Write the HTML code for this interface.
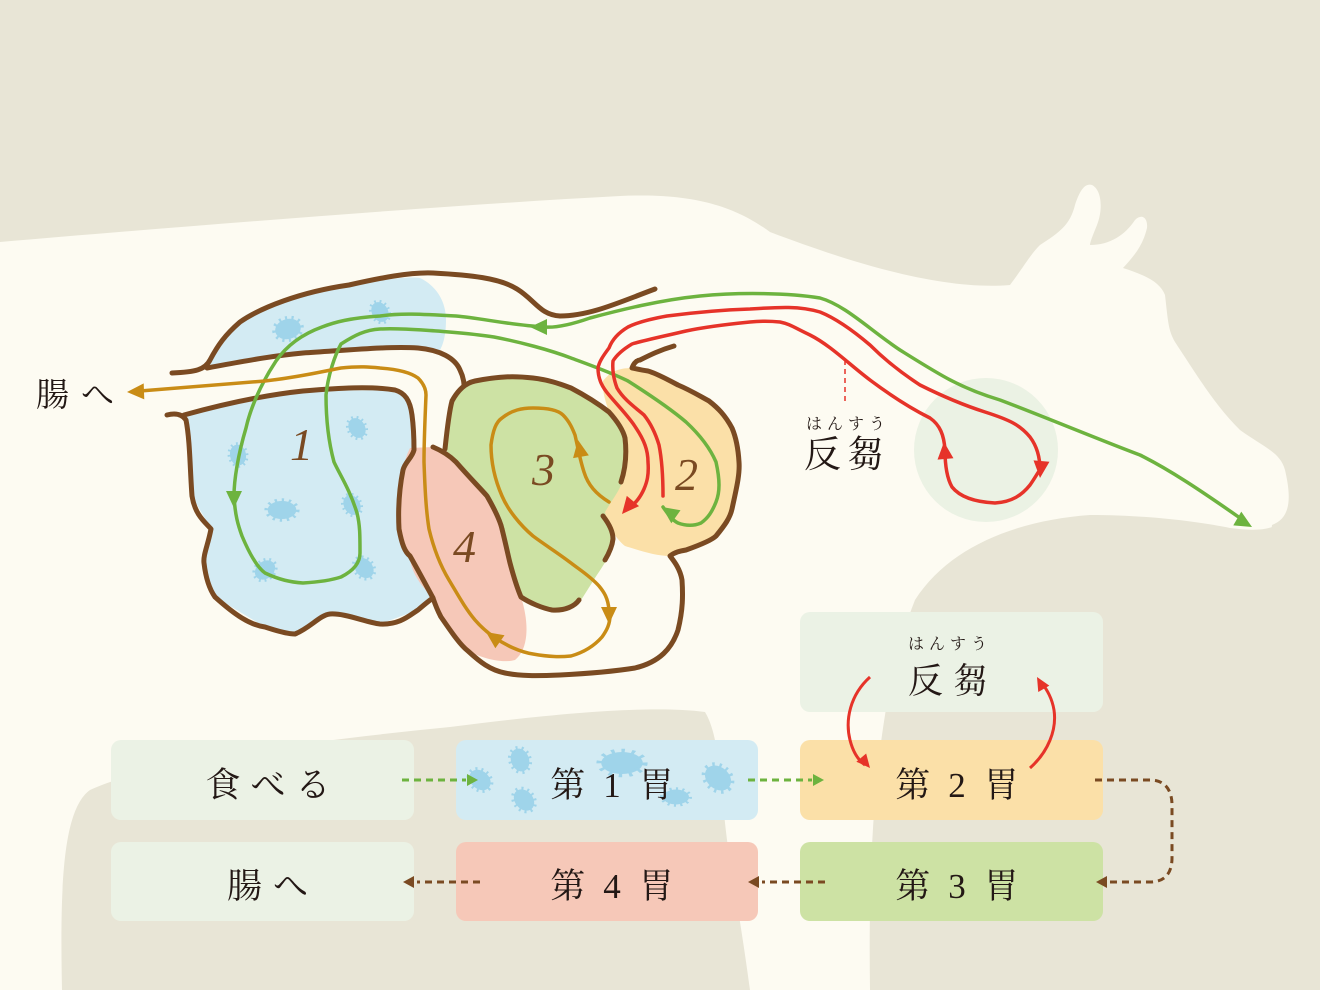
<!DOCTYPE html>
<html><head><meta charset="utf-8"><style>
html,body{margin:0;padding:0;background:#e8e5d6}
svg{display:block}
.j{font-family:"Liberation Serif","Noto Serif CJK SC","Noto Serif CJK JP",serif;fill:#231815}
.n{font-family:"Liberation Serif",serif;font-style:italic;fill:#7a4a22;font-size:46px}
</style></head><body>
<svg width="1320" height="990" viewBox="0 0 1320 990" xmlns="http://www.w3.org/2000/svg">
<defs>
<path id="ah" d="M0,0 L-17,-8 L-17,8 Z"/>
<path id="sh" d="M0,0 L-11,-6 L-11,6 Z"/>
<g id="mic"><ellipse cx="0" cy="0" rx="13" ry="10" fill="#9fd4ea" stroke="#9fd4ea" stroke-width="6" stroke-dasharray="2 4"/></g>
</defs>
<rect width="1320" height="990" fill="#e8e5d6"/>
<path fill="#fdfbf2" d="M0,242 C200,225 450,205 620,196 C700,192 740,210 770,232 C870,270 950,290 1010,285 C1025,265 1030,255 1040,245 C1060,232 1070,225 1075,205 C1080,190 1085,183 1092,185 C1102,190 1103,210 1097,225 C1093,235 1090,242 1090,245 C1110,245 1125,235 1135,220 C1142,213 1148,218 1147,228 C1143,245 1135,255 1123,268 C1145,275 1160,282 1165,295 C1168,320 1168,330 1175,342 C1200,380 1215,405 1240,430 C1265,448 1280,452 1285,470 C1292,500 1290,518 1272,525 L1250,700 L870,990 L0,990 Z"/>
<path fill="#e8e5d6" d="M870,990 C868,850 875,700 915,600 C950,545 1020,520 1090,515 C1150,515 1200,522 1230,528 C1255,531 1265,530 1275,526 L1320,526 L1320,990 Z"/>
<path fill="#e8e5d6" d="M62,990 C60,890 62,810 90,790 C150,762 300,742 450,727 C560,713 650,705 705,712 C722,740 720,800 730,860 C740,920 746,960 750,990 Z"/>
<circle cx="986" cy="450" r="72" fill="#e7f0e2" opacity="0.85"/>

<path fill="#d3ebf3" d="M207,368 L227,332 C240,315 255,310 265,307 C300,295 320,290 349,285 C380,280 410,276 420,278 C435,285 446,300 446,320 C446,335 443,345 440,350 L418,348 L303,353 Z"/>
<path fill="#d3ebf3" d="M184,415 L303,391 L395,390 C405,395 410,400 414,442 L410,460 L400,480 C398,530 405,560 433,598 L418,610 L380,624 L330,614 L295,634 L265,627 L215,597 L204,563 L211,529 L192,496 L188,428 Z"/>
<path fill="#f6c8b8" d="M410,448 L433,447 C450,455 475,480 487,496 C497,510 500,520 502,529 L510,563 L521,597 C530,625 528,650 515,660 C500,664 480,657 468,651 C455,640 445,625 441,617 L433,598 C420,585 410,570 410,556 C400,535 399,520 399,500 C400,480 403,462 410,448 Z"/>
<path fill="#cde2a4" d="M445,449 L452,401 C458,390 465,383 475,381 C500,376 515,376 533,378 C550,380 560,384 571,388 C590,398 600,405 609,412 C618,422 623,430 625,438 L625,480 C618,495 610,505 606,512 C613,528 613,540 613,545 C608,560 600,570 595,578 L583,597 C578,605 570,609 552,610 C545,608 538,606 533,603 L521,597 L510,563 L502,529 L487,496 L456,462 Z"/>
<path fill="#fbe0a8" d="M603,381 C610,372 618,368 632,368 L648,371 L678,385 L709,401 L732,428 C740,445 741,460 739,480 C737,495 735,505 732,509 L716,536 L686,550 L670,556 C655,556 638,550 625,546 C615,538 608,525 605,512 C612,500 620,490 622,482 C626,465 626,450 625,438 C620,425 612,415 609,412 C605,400 602,390 603,381 Z"/>

<use href="#mic" transform="translate(288,329) rotate(-15)"/>
<use href="#mic" transform="translate(380,312) rotate(60) scale(0.8)"/>
<use href="#mic" transform="translate(357,428) rotate(60) scale(0.8)"/>
<use href="#mic" transform="translate(238,455) rotate(80) scale(0.8)"/>
<use href="#mic" transform="translate(282,510) scale(1.1,0.9)"/>
<use href="#mic" transform="translate(352,505) rotate(60) scale(0.8)"/>
<use href="#mic" transform="translate(265,570) rotate(-40) scale(0.85)"/>
<use href="#mic" transform="translate(364,568) rotate(50) scale(0.85)"/>

<g fill="none" stroke="#7a4a22" stroke-width="5" stroke-linecap="round" stroke-linejoin="round">
<path d="M172,373 C195,372 205,370 210,360 C218,345 225,335 240,322 C260,308 300,292 349,285 C380,278 410,272 433,273 C470,275 500,278 517,289 C535,300 540,315 560,316 C590,316 620,302 655,289"/>
<path d="M207,368 C240,362 270,356 303,353 C350,350 390,346 418,348 C440,350 455,358 460,370 C464,378 464,385 464,385"/>
<path d="M167,415 C175,413 182,414 186,420 C190,440 190,470 192,496 C195,515 205,522 211,529 C208,545 203,555 204,563 C206,580 210,590 215,597 C235,615 250,625 265,627 C280,632 290,634 295,634 C310,628 320,615 330,614 C345,613 365,622 380,624 C400,625 410,615 418,610 C425,604 430,600 433,598"/>
<path d="M184,415 C220,405 265,395 303,391 C340,388 370,386 395,390 C405,393 410,400 412,415 C414,430 414,442 414,450 C412,458 405,462 403,470 C399,490 398,510 399,529 C402,545 405,552 410,556 C418,570 426,585 433,598 C437,610 440,615 441,617 C450,630 460,645 468,651 C480,662 490,670 505,673 C520,676 535,676 560,675 C580,674 610,672 635,668 C660,662 672,648 678,630 C683,610 683,595 682,580 C680,568 673,560 670,556 C675,552 680,551 686,550 C700,545 712,540 716,536 C725,525 730,518 732,509 C736,490 740,475 739,462 C738,445 735,435 732,428 C725,415 718,408 709,401 C698,395 690,390 678,385 C665,378 655,373 648,371 C640,370 633,368 632,368 C634,362 638,360 640,360 C650,355 660,350 674,346"/>
<path d="M433,447 C445,452 452,458 456,462 C470,478 480,488 487,496 C495,510 500,520 502,529 C506,545 508,555 510,563 C514,578 518,590 521,597 C530,603 542,608 552,610 C565,611 575,606 579,600"/>
<path d="M445,449 C447,430 449,412 452,401 C458,390 465,383 475,381 C500,376 515,376 533,378 C550,380 560,384 571,388 C590,398 600,405 609,412 C618,422 623,430 625,438 C627,455 625,470 621,482"/>
<path d="M603,516 C610,525 613,532 613,539 C612,548 608,555 605,560"/>
</g>

<g fill="none" stroke-width="3.5" stroke-linecap="round" stroke-linejoin="round">
<path stroke="#6db33f" d="M1240,518 C1200,490 1170,470 1140,455 C1100,440 1040,415 1000,400 C960,388 940,375 900,350 C870,330 845,305 820,298 C790,293 740,292 700,296 C660,300 620,310 590,318 C570,325 555,328 544,327 C510,325 480,318 456,316 C420,314 400,313 380,316 C350,318 335,322 322,327 C300,335 285,348 276,361 C260,385 250,410 246,428 C238,455 234,480 234,496 C235,515 238,525 242,536 C250,555 258,568 265,573 C280,580 290,582 303,583 C320,582 332,580 341,577 C355,570 360,562 360,553 C360,535 360,525 357,513 C350,490 340,475 334,462 C328,440 326,415 326,395 C328,375 335,355 341,344 C355,335 365,330 380,329 C400,328 420,330 437,331 C460,333 475,334 494,337 C520,342 550,350 571,358 C590,365 610,372 628,381 C650,395 672,410 686,422 C700,435 710,448 716,462 C720,480 720,492 716,502 C712,512 708,518 701,523 C694,526 686,526 678,523 C672,520 668,514 663,507"/>
<path stroke="#e63329" d="M1040,470 C1040,455 1036,445 1030,437 C1020,425 1010,420 985,412 C960,404 940,395 920,385 C900,372 885,360 870,345 C850,328 835,318 820,312 C800,306 780,307 750,309 C720,310 690,313 667,316 C650,319 638,322 628,327 C618,333 612,340 609,348 C603,356 599,362 598,368 C598,380 603,388 609,395 C620,408 630,418 636,428 C644,440 648,450 648,462 C649,475 647,482 644,489 C640,498 636,502 630,508"/>
<path stroke="#e63329" d="M945,450 C945,470 948,480 952,487 C960,497 975,502 995,503 C1012,502 1022,495 1030,485 C1035,478 1038,472 1040,470"/>
<path stroke="#e63329" d="M945,450 C944,435 940,425 930,418 C910,408 890,395 870,380 C850,365 830,345 810,335 C795,328 790,324 780,322 C770,321 760,321 750,322 C720,325 700,328 686,331 C665,336 645,340 632,344 C622,350 616,356 613,361 C612,372 614,380 617,388 C624,400 636,408 644,415 C652,425 656,435 659,445 C662,460 663,480 663,496"/>
<path stroke="#c98c16" d="M140,391 C200,386 240,383 265,381 C300,377 320,372 341,368 C360,366 370,367 380,368 C395,369 410,372 418,378 C424,384 426,390 426,395 C425,420 424,440 424,462 C425,490 426,510 429,529 C434,550 440,565 449,580 C458,595 465,608 475,620 C482,628 488,633 494,637"/>
<path stroke="#c98c16" d="M494,637 C505,645 520,652 533,654 C550,657 560,657 571,656 C585,652 595,645 602,637 C607,630 610,624 610,615"/>
<path stroke="#c98c16" d="M609,610 C608,598 604,592 599,586 C590,576 580,570 571,563 C558,553 545,545 533,536 C520,525 508,510 502,496 C495,480 491,462 491,445 C493,430 496,422 502,418 C512,410 522,408 533,408 C548,408 558,410 563,415 C570,422 573,430 575,435 C578,448 580,460 584,472 C588,485 596,494 609,502"/>
</g>
<use href="#ah" fill="#6db33f" transform="translate(530,327) rotate(180)"/>
<use href="#ah" fill="#6db33f" transform="translate(234,508) rotate(90)"/>
<use href="#ah" fill="#6db33f" transform="translate(662,507) rotate(-145)"/>
<use href="#ah" fill="#6db33f" transform="translate(1252,527) rotate(30)"/>
<use href="#ah" fill="#e63329" transform="translate(622,514) rotate(130)"/>
<use href="#ah" fill="#e63329" transform="translate(1040,478) rotate(95)"/>
<use href="#ah" fill="#e63329" transform="translate(944,442) rotate(-95)"/>
<use href="#ah" fill="#c98c16" transform="translate(127,392) rotate(178)"/>
<use href="#ah" fill="#c98c16" transform="translate(486,632) rotate(-145)"/>
<use href="#ah" fill="#c98c16" transform="translate(609,624) rotate(90)"/>
<use href="#ah" fill="#c98c16" transform="translate(578,440) rotate(-100)"/>

<text class="n" x="290" y="460">1</text>
<text class="n" x="675" y="490">2</text>
<text class="n" x="532" y="485">3</text>
<text class="n" x="453" y="562">4</text>

<text class="j" x="36" y="406" font-size="33" letter-spacing="12">腸へ</text>
<line x1="845" y1="360" x2="845" y2="405" stroke="#e63329" stroke-width="1.5" stroke-dasharray="5 4"/>
<text class="j" x="806" y="429" font-size="16" letter-spacing="5">はんすう</text>
<text class="j" x="804" y="467" font-size="37" letter-spacing="6">反芻</text>

<rect x="800" y="612" width="303" height="100" rx="10" fill="#ebf2e5"/>
<rect x="111" y="740" width="303" height="80" rx="10" fill="#ebf2e5"/>
<rect x="456" y="740" width="302" height="80" rx="10" fill="#d3ebf3"/>
<rect x="800" y="740" width="303" height="80" rx="10" fill="#fbe0a8"/>
<rect x="111" y="842" width="303" height="79" rx="10" fill="#ebf2e5"/>
<rect x="456" y="842" width="302" height="79" rx="10" fill="#f6c8b8"/>
<rect x="800" y="842" width="303" height="79" rx="10" fill="#cde2a4"/>

<use href="#mic" transform="translate(480,780) rotate(40) scale(0.9)"/>
<use href="#mic" transform="translate(520,760) rotate(70) scale(0.9)"/>
<use href="#mic" transform="translate(524,800) rotate(50) scale(0.9)"/>
<use href="#mic" transform="translate(622,763) scale(1.6,1.1)"/>
<use href="#mic" transform="translate(676,797) scale(1,0.75)"/>
<use href="#mic" transform="translate(718,778) rotate(40) scale(1.1)"/>

<g class="j" font-size="35" text-anchor="middle">
<text x="273" y="797" letter-spacing="10">食べる</text>
<text x="621" y="797" letter-spacing="18">第1胃</text>
<text x="966" y="797" letter-spacing="18">第2胃</text>
<text x="273" y="898" letter-spacing="11">腸へ</text>
<text x="621" y="898" letter-spacing="18">第4胃</text>
<text x="966" y="898" letter-spacing="18">第3胃</text>
<text x="953" y="693" letter-spacing="10">反芻</text>
<text x="950" y="649" font-size="16" letter-spacing="5">はんすう</text>
</g>

<g fill="none" stroke-width="3" stroke-dasharray="7 5">
<line x1="402" y1="780" x2="466" y2="780" stroke="#6db33f"/>
<line x1="748" y1="780" x2="812" y2="780" stroke="#6db33f"/>
<path d="M1095,780 L1150,780 C1165,780 1172,790 1172,805 L1172,858 C1172,873 1165,882 1150,882 L1108,882" stroke="#7a4a22"/>
<line x1="825" y1="882" x2="762" y2="882" stroke="#7a4a22"/>
<line x1="480" y1="882" x2="417" y2="882" stroke="#7a4a22"/>
</g>
<use href="#sh" fill="#6db33f" transform="translate(478,780)"/>
<use href="#sh" fill="#6db33f" transform="translate(824,780)"/>
<use href="#sh" fill="#7a4a22" transform="translate(1096,882) rotate(180)"/>
<use href="#sh" fill="#7a4a22" transform="translate(748,882) rotate(180)"/>
<use href="#sh" fill="#7a4a22" transform="translate(403,882) rotate(180)"/>

<path d="M870,677 C850,695 845,720 850,740 C853,752 858,760 865,765" fill="none" stroke="#e63329" stroke-width="3"/>
<use href="#ah" fill="#e63329" transform="translate(870,768) rotate(50) scale(0.8)"/>
<path d="M1030,768 C1048,752 1057,730 1054,710 C1052,698 1047,690 1042,683" fill="none" stroke="#e63329" stroke-width="3"/>
<use href="#ah" fill="#e63329" transform="translate(1037,677) rotate(-120) scale(0.8)"/>
</svg>
</body></html>
